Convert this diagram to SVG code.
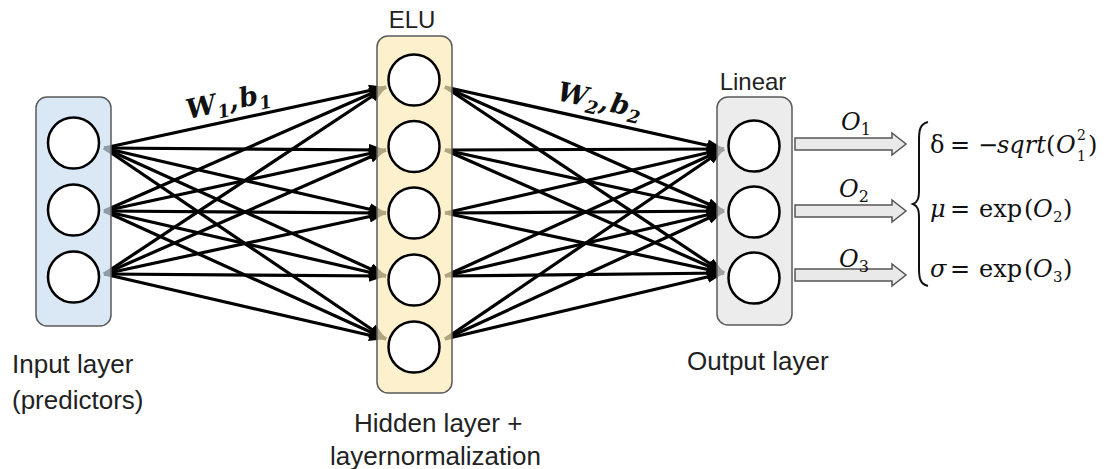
<svg xmlns="http://www.w3.org/2000/svg" width="1106" height="469" viewBox="0 0 1106 469">
  <defs>
    <marker id="arrow" markerUnits="userSpaceOnUse" markerWidth="17" markerHeight="12" refX="17" refY="6" orient="auto">
      <path d="M0,0 L17,6 L0,12 z" fill="#000"/>
    </marker>
    <style>
      .link{stroke:#000;stroke-width:3.2;fill:none;marker-end:url(#arrow)}
      .layer{stroke:#5a5a5a;stroke-width:1.5;fill-opacity:0.7}
      .neuron{fill:#fff;stroke:#000;stroke-width:2.5}
      .label{font-family:"Liberation Sans",Arial,sans-serif;font-size:26px;fill:#222}
      .title{font-family:"Liberation Sans",Arial,sans-serif;font-size:24px;fill:#222;text-anchor:middle}
      .math{font-family:"DejaVu Serif","Liberation Serif",serif;font-size:24px;fill:#111}
      .osym{font-family:"DejaVu Serif","Liberation Serif",serif;font-size:24px;fill:#111;font-style:italic}
      .it{font-style:italic}
      .wt{font-family:"DejaVu Serif","Liberation Serif",serif;font-weight:bold;font-style:italic;font-size:27px;fill:#111}
      .block{fill:#e9e9e9;stroke:#555;stroke-width:1.5}
      .brace{fill:none;stroke:#111;stroke-width:2}
    </style>
  </defs>

  <!-- connectors: dense weights between layers, then block arrows to the outputs -->
  <g id="connectors">
    <!-- input -> hidden -->
    <line class="link" x1="104" y1="148" x2="386" y2="87"/>
    <line class="link" x1="104" y1="148" x2="386" y2="150"/>
    <line class="link" x1="104" y1="148" x2="386" y2="213"/>
    <line class="link" x1="104" y1="148" x2="386" y2="276"/>
    <line class="link" x1="104" y1="148" x2="386" y2="339"/>
    <line class="link" x1="104" y1="211" x2="386" y2="87"/>
    <line class="link" x1="104" y1="211" x2="386" y2="150"/>
    <line class="link" x1="104" y1="211" x2="386" y2="213"/>
    <line class="link" x1="104" y1="211" x2="386" y2="276"/>
    <line class="link" x1="104" y1="211" x2="386" y2="339"/>
    <line class="link" x1="104" y1="274" x2="386" y2="87"/>
    <line class="link" x1="104" y1="274" x2="386" y2="150"/>
    <line class="link" x1="104" y1="274" x2="386" y2="213"/>
    <line class="link" x1="104" y1="274" x2="386" y2="276"/>
    <line class="link" x1="104" y1="274" x2="386" y2="339"/>
    <!-- hidden -> output -->
    <line class="link" x1="445" y1="87" x2="724" y2="149"/>
    <line class="link" x1="445" y1="87" x2="724" y2="211"/>
    <line class="link" x1="445" y1="87" x2="724" y2="273"/>
    <line class="link" x1="445" y1="150" x2="724" y2="149"/>
    <line class="link" x1="445" y1="150" x2="724" y2="211"/>
    <line class="link" x1="445" y1="150" x2="724" y2="273"/>
    <line class="link" x1="445" y1="213" x2="724" y2="149"/>
    <line class="link" x1="445" y1="213" x2="724" y2="211"/>
    <line class="link" x1="445" y1="213" x2="724" y2="273"/>
    <line class="link" x1="445" y1="276" x2="724" y2="149"/>
    <line class="link" x1="445" y1="276" x2="724" y2="211"/>
    <line class="link" x1="445" y1="276" x2="724" y2="273"/>
    <line class="link" x1="445" y1="339" x2="724" y2="149"/>
    <line class="link" x1="445" y1="339" x2="724" y2="211"/>
    <line class="link" x1="445" y1="339" x2="724" y2="273"/>
    <!-- output block arrows -->
    <path class="block" d="M795,138 L892,138 L892,133 L906,144 L892,155 L892,150 L795,150 Z"/>
    <path class="block" d="M795,205 L892,205 L892,200 L906,211 L892,222 L892,217 L795,217 Z"/>
    <path class="block" d="M795,269 L892,269 L892,264 L906,275 L892,286 L892,281 L795,281 Z"/>
  </g>

  <!-- weight labels along the top edges -->
  <text class="wt" transform="translate(188,119) rotate(-12)">W<tspan font-size="18" dy="6">1</tspan><tspan dy="-6">,</tspan><tspan dx="2">b</tspan><tspan font-size="18" dy="6">1</tspan></text>
  <text class="wt" transform="translate(556,100) rotate(12.3)">W<tspan font-size="18" dy="6">2</tspan><tspan dy="-6">,</tspan><tspan dx="2">b</tspan><tspan font-size="18" dy="6">2</tspan></text>

  <!-- input layer -->
  <g id="input-layer">
    <rect class="layer" x="36" y="97" width="75" height="229" rx="11" fill="#cadef2"/>
    <circle class="neuron" cx="73.5" cy="143" r="25.5"/>
    <circle class="neuron" cx="73.5" cy="210" r="25.5"/>
    <circle class="neuron" cx="73.5" cy="277" r="25.5"/>
    <text class="label" x="12" y="373">Input layer</text>
    <text class="label" x="12" y="409">(predictors)</text>
  </g>

  <!-- hidden layer -->
  <g id="hidden-layer">
    <rect class="layer" x="377" y="36" width="75" height="357" rx="11" fill="#fceab8"/>
    <circle class="neuron" cx="414" cy="80" r="25.5"/>
    <circle class="neuron" cx="414" cy="146.5" r="25.5"/>
    <circle class="neuron" cx="414" cy="213" r="25.5"/>
    <circle class="neuron" cx="414" cy="280" r="25.5"/>
    <circle class="neuron" cx="414" cy="347" r="25.5"/>
    <text class="title" x="412" y="28">ELU</text>
    <text class="label" x="354" y="432">Hidden layer +</text>
    <text class="label" x="330" y="465">layernormalization</text>
  </g>

  <!-- output layer -->
  <g id="output-layer">
    <rect class="layer" x="717" y="97" width="75" height="228" rx="11" fill="#e4e4e4"/>
    <circle class="neuron" cx="754" cy="146" r="25.5"/>
    <circle class="neuron" cx="754" cy="212" r="25.5"/>
    <circle class="neuron" cx="754" cy="278" r="25.5"/>
    <text class="title" x="753" y="90">Linear</text>
    <text class="label" x="687" y="370">Output layer</text>
  </g>

  <!-- output labels -->
  <g id="output-labels">
    <text class="osym" x="841" y="130">O<tspan font-size="16" font-style="normal" dy="5">1</tspan></text>
    <text class="osym" x="839" y="197">O<tspan font-size="16" font-style="normal" dy="5">2</tspan></text>
    <text class="osym" x="839" y="267">O<tspan font-size="16" font-style="normal" dy="5">3</tspan></text>
  </g>

  <!-- distribution parameters -->
  <g id="parameters">
    <path class="brace" d="M928,122 C920,124 919,130 919,140 L919,190 C919,198 918,202 913,204 C918,206 919,210 919,218 L919,268 C919,278 920,284 928,286"/>
    <text class="math" y="153"><tspan x="930">δ</tspan><tspan x="950">=</tspan><tspan x="978">−</tspan><tspan x="997" class="it">sqrt</tspan><tspan x="1046">(</tspan><tspan x="1056" class="it">O</tspan><tspan x="1077" y="140" font-size="14">2</tspan><tspan x="1077" y="161" font-size="14">1</tspan><tspan x="1088" y="153">)</tspan></text>
    <text class="math" y="217"><tspan x="930" class="it">μ</tspan><tspan x="950">=</tspan><tspan x="979">exp</tspan><tspan x="1024">(</tspan><tspan x="1033" class="it">O</tspan><tspan x="1053" y="222" font-size="15">2</tspan><tspan x="1063" y="217">)</tspan></text>
    <text class="math" y="277"><tspan x="930" class="it">σ</tspan><tspan x="950">=</tspan><tspan x="979">exp</tspan><tspan x="1024">(</tspan><tspan x="1033" class="it">O</tspan><tspan x="1053" y="282" font-size="15">3</tspan><tspan x="1063" y="277">)</tspan></text>
  </g>
</svg>
